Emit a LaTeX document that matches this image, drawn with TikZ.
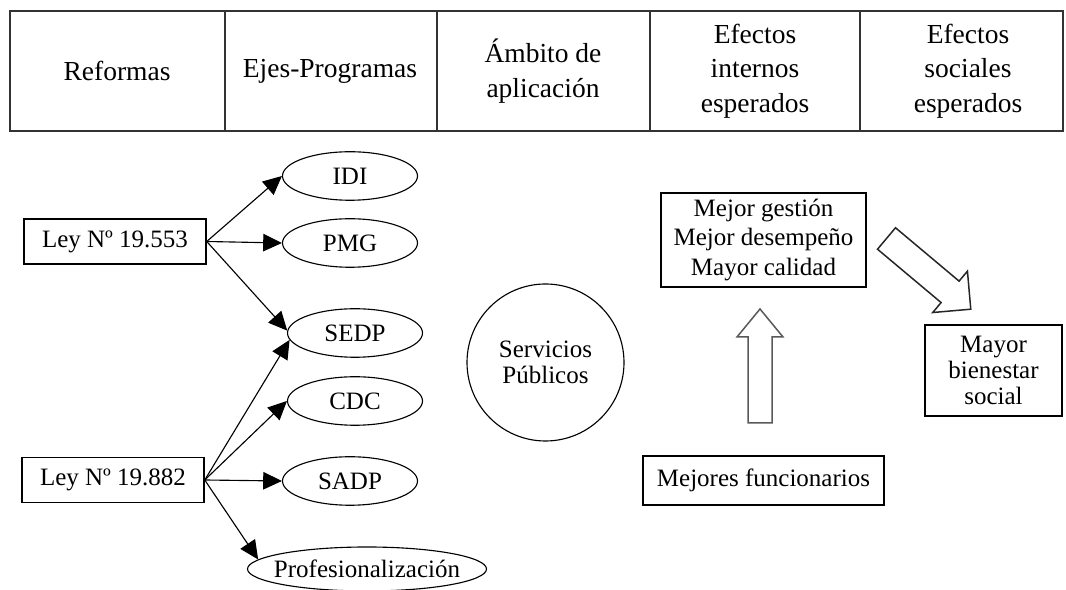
\documentclass[tikz,border=0pt]{standalone}
\usepackage{fontspec}
\setmainfont{Liberation Serif}
\usetikzlibrary{arrows.meta,shapes.geometric}
\def\blockarrow[#1](#2)(#3:#4:#5:#6:#7){\draw[#1,shift={(#2)},rotate=#3] (0,{-#5/2}) -- ({#4-#7},{-#5/2}) -- ({#4-#7},{-#6/2}) -- (#4,0) -- ({#4-#7},{#6/2}) -- ({#4-#7},{#5/2}) -- (0,{#5/2}) -- cycle;}
\tikzset{
	lawbox/.style={draw, line width=0.6pt, minimum width=72.8pt, minimum height=18pt, inner sep=1pt},
	axisnode/.style={draw, ellipse, line width=0.45pt, minimum width=54pt, minimum height=19.4pt, inner sep=0pt},
	effectbox/.style={draw, line width=0.6pt, align=center, inner sep=1pt},
	headtext/.style={align=center, font=\fontsize{11}{13.8}\selectfont},
	link/.style={-{Triangle[length=7.5pt,width=7pt]}, line width=0.45pt}
}

\begin{document}
\begin{tikzpicture}[x=0.4pt, y=-0.4pt, font=\fontsize{10}{11.8}\selectfont]
		%%%%% START %%%%%
		\useasboundingbox (0,0) rectangle (1066,590);
		
		\draw[line width=0.7pt, color=black!80] (10,11) rectangle (1063,131);
		\foreach \x in {225,437,650,860} \draw[line width=0.7pt, color=black!80] (\x,11) -- (\x,131);
		
		\node[headtext] (hReformas) at (117,71) {Reformas};
		\node[headtext] (hEjes) at (330,71) {Ejes-Programas};
		\node[headtext] (hAmbito) at (543,71) {Ámbito de\\aplicación};
		\node[headtext] (hInternos) at (755,71) {Efectos\\internos\\esperados};
		\node[headtext] (hSociales) at (968,71) {Efectos\\sociales\\esperados};
		
		\node[lawbox] (ley1) at (115,241.5) {Ley Nº 19.553};
		\node[lawbox] (ley2) at (113,480) {Ley Nº 19.882};
		
		\node[axisnode] (idi) at (350,176) {IDI};
		\node[axisnode] (pmg) at (350,243) {PMG};
		\node[axisnode] (sedp) at (355,333) {SEDP};
		\node[axisnode] (cdc) at (355,401) {CDC};
		\node[axisnode] (sadp) at (350,481) {SADP};
		\node[axisnode, minimum width=95.6pt, minimum height=17.6pt, inner xsep=-4pt] (prof) at (367,569) {Profesionalización};
		
		\foreach \t in {idi.west,pmg.west,sedp.178} \draw[link] (ley1.east) -- (\t);
		\foreach \t in {sedp.186,cdc.west,sadp.west,prof.175} \draw[link] (ley2.east) -- (\t);
		
		\node[draw, circle, line width=0.45pt, minimum size=62.8pt, align=center, font=\fontsize{10}{10.4}\selectfont] (servicios) at (545.5,362.5) {Servicios\\Públicos};
		
		\node[effectbox, minimum width=82pt, minimum height=37.6pt] (mejor) at (763.5,240) {Mejor gestión\\Mejor desempeño\\Mayor calidad};
		\node[effectbox, minimum width=96.4pt, minimum height=19.6pt] (funcionarios) at (763.5,480.5) {Mejores funcionarios};
		\node[effectbox, minimum width=54.8pt, minimum height=36.4pt, font=\fontsize{10}{10.4}\selectfont] (bienestar) at (993.5,370.5) {Mayor\\bienestar\\social};
		
		\blockarrow[line width=0.6pt, color=black!65](760,423)(90:114:24:46:28)
		\blockarrow[line width=0.6pt, color=black!85](886.5,238.5)(-40:110:28:54:27)
		
		%%%%% END %%%%%
\end{tikzpicture}
\end{document}
